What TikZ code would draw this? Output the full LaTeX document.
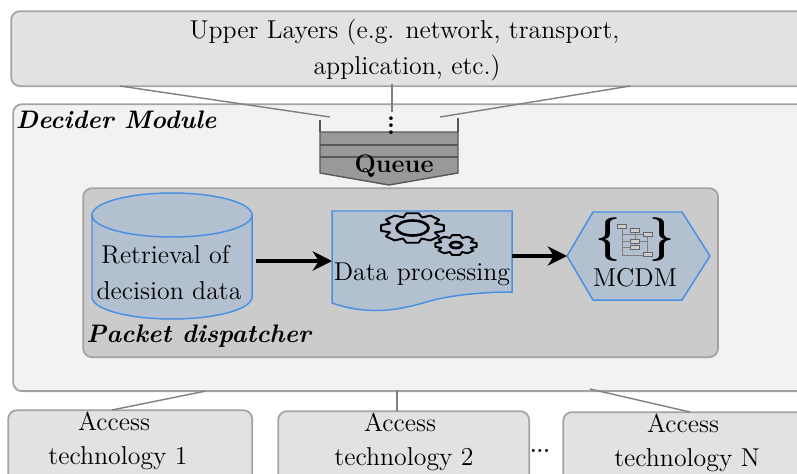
\documentclass[tikz,border=0pt]{standalone}
\usepackage{amsmath}
\usepackage{xcolor}
\usetikzlibrary{arrows.meta}

\definecolor{boxgrey}{HTML}{E2E2E2}
\definecolor{modulegrey}{HTML}{F2F2F2}
\definecolor{dispatchgrey}{HTML}{CBCBCB}
\definecolor{queuegrey}{HTML}{999999}
\definecolor{edgegrey}{HTML}{A3A3A3}
\definecolor{linkgrey}{HTML}{808080}
\definecolor{stepfill}{HTML}{B3C0D0}
\definecolor{stepedge}{HTML}{4A90E2}

\tikzset{
  greybox/.style={draw=edgegrey, line width=1pt, fill=boxgrey, rounded corners=5pt, inner sep=0pt},
  stepshape/.style={draw=stepedge, line width=0.85pt, fill=stepfill},
  linkline/.style={draw=linkgrey, line width=0.8pt},
  flowarrow/.style={-{Stealth[length=11pt, width=11pt, inset=3.5pt]}, line width=1.9pt, black},
  queueline/.style={draw=black!65, line width=0.8pt},
  steptext/.style={font=\fontsize{14.7}{18}\selectfont, inner sep=0pt, align=center},
  titletext/.style={font=\Large\bfseries\itshape, inner sep=0pt, anchor=west},
  bracetext/.style={font=\Huge\bfseries, inner sep=0pt},
  gearline/.style={draw=black, line width=1.1pt, line join=round},
  gearhole/.style={draw=black, line width=1.5pt},
  treebox/.style={draw=black!60, fill=black!20, line width=0.45pt}
}

% one gear, flattened: center x, center y, radius x, radius y
\newcommand{\geartrain}[4]{
  \draw[gearline] ({#1+.76*#3*cos(-23)},{#2+.76*#4*sin(-23)})
    \foreach \a in {0,45,...,315}{
      -- ({#1+#3*cos(\a-11)},{#2+#4*sin(\a-11)})
      -- ({#1+#3*cos(\a+11)},{#2+#4*sin(\a+11)})
      -- ({#1+.76*#3*cos(\a+23)},{#2+.76*#4*sin(\a+23)})
    } -- cycle;
}

\begin{document}
\begin{tikzpicture}[x=0.02cm, y=-0.02cm]

\useasboundingbox (0,0) rectangle (797,473);
\clip (0,0) rectangle (797,473);

% upper layers
\node[greybox, minimum width=16.2cm, minimum height=1.5cm, anchor=north west] (upper) at (10.3,10.3) {};
\node[steptext] (uppertext) at (404.5,32.5) {Upper Layers (e.g. network, transport,};
\node[steptext] (uppertext2) at (407,68.5) {application, etc.)};

% decider module
\node[greybox, fill=modulegrey, minimum width=16.2cm, minimum height=5.74cm, anchor=north west] (decider) at (12.3,103.3) {};
\node[titletext] (decidertext) at (15.5,120) {Decider Module};

\coordinate (upperL) at (120,86);
\coordinate (upperM) at (392,84);
\coordinate (upperR) at (630,86);
\coordinate (queueL) at (330,117);
\coordinate (queueM) at (392,112);
\coordinate (queueR) at (440,117);

\draw[linkline] (upperL) -- (queueL);
\draw[linkline] (upperM) -- (queueM);
\draw[linkline] (upperR) -- (queueR);

% queue
\draw[queueline, fill=queuegrey] (320,132) -- (458,132) -- (458,173) -- (389,185) -- (320,173) -- cycle;
\draw[queueline] (320,120) -- (320,132);
\draw[queueline] (458,118) -- (458,132);
\draw[queueline] (320,145) -- (458,145);
\draw[queueline] (320,157) -- (458,157);
\node[font=\Large\bfseries, inner sep=0pt] (queuetext) at (394,166) {Queue};
\node[font=\Large\bfseries, inner sep=0pt] (queuedots) at (391,120) {\vdots};

% packet dispatcher
\node[greybox, fill=dispatchgrey, minimum width=12.7cm, minimum height=3.38cm, anchor=north west] (dispatcher) at (82.3,187.3) {};
\node[titletext] (dispatchertext) at (86,336) {Packet dispatcher};

% retrieval of decision data
\draw[stepshape] (92,215) -- (92,297) arc[start angle=180, end angle=0, x radius=80, y radius=22] -- (252,215) -- cycle;
\draw[stepshape] (172,215) ellipse [x radius=80, y radius=22];
\node[steptext] (retrieval) at (165.5,254.5) {Retrieval of};
\node[steptext] (retrieval2) at (169,290.5) {decision data};

% data processing
\draw[stepshape] (332,211) -- (512,211) -- (512,292) .. controls (490,292) and (455,294) .. (430,301) .. controls (400,310) and (370,316) .. (332,303) -- cycle;
\node[steptext] (processing) at (422,274) {Data processing};
\geartrain{412.5}{228}{32}{15}
\draw[gearhole] (412.5,228) ellipse [x radius=16, y radius=7.5];
\geartrain{456}{245}{21}{10}
\draw[gearhole] (456,245) ellipse [x radius=6, y radius=3];

% mcdm
\draw[stepshape] (567,256) -- (593,212) -- (682,212) -- (710,256) -- (682,300) -- (593,300) -- cycle;
\node[steptext] (mcdm) at (635,278) {MCDM};
\node[bracetext] (bracel) at (608,240) {\{};
\node[bracetext] (bracer) at (662,240) {\}};
\draw[draw=black!50, line width=0.4pt] (622,228) -- (622,255) -- (643,255);
\draw[draw=black!50, line width=0.4pt] (622,241) -- (630,241) (622,247) -- (630,247) (622,234) -- (647,234) -- (647,252) (635,232) -- (635,245) (639,241) -- (647,241);
\foreach \bx/\by in {617/224, 630/228, 643/232, 630/239, 630/245, 643/252}
  \draw[treebox] (\bx,\by) rectangle ++(9,4);

\coordinate (retrievalout) at (256,261);
\coordinate (processingin) at (332,261);
\coordinate (processingout) at (512,256);
\coordinate (mcdmin) at (567,256);
\draw[flowarrow] (retrievalout) -- (processingin);
\draw[flowarrow] (processingout) -- (mcdmin);

% access technologies
\node[greybox, minimum width=4.88cm, minimum height=1.5cm, anchor=north west] (access1) at (7.3,409.3) {};
\node[steptext] (access1text) at (114,421) {Access};
\node[steptext] (access1text2) at (118,458.5) {technology 1};

\node[greybox, minimum width=5.02cm, minimum height=1.5cm, anchor=north west] (access2) at (277.3,410.3) {};
\node[steptext] (access2text) at (400,422) {Access};
\node[steptext] (access2text2) at (404,459.5) {technology 2};

\node[greybox, minimum width=5cm, minimum height=1.5cm, anchor=north west] (accessN) at (562.3,411.3) {};
\node[steptext] (accessNtext) at (683,423) {Access};
\node[steptext] (accessNtext2) at (687,460.5) {technology N};

\node[font=\large\bfseries, inner sep=0pt] (accessdots) at (540,451) {...};

\coordinate (deciderL) at (206,391);
\coordinate (deciderM) at (397,390);
\coordinate (deciderR) at (590,389);
\coordinate (accessL) at (112,410);
\coordinate (accessM) at (397,411);
\coordinate (accessR) at (690,412);

\draw[linkline] (deciderL) -- (accessL);
\draw[linkline] (deciderM) -- (accessM);
\draw[linkline] (deciderR) -- (accessR);

\end{tikzpicture}
\end{document}
